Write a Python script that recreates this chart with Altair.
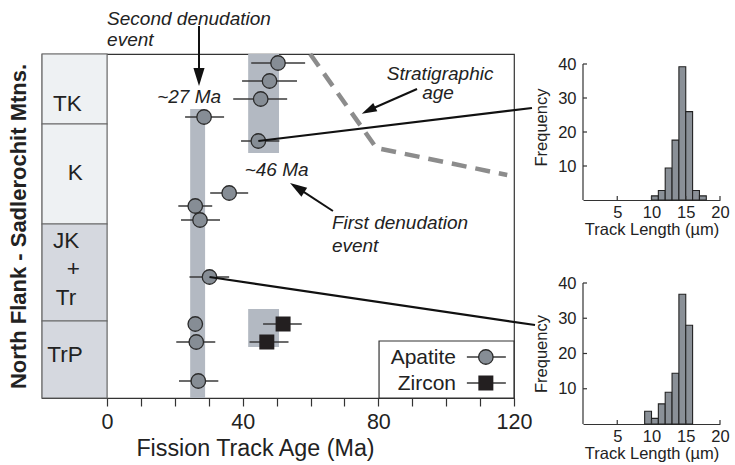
import altair as alt
import pandas as pd

FONT = "Liberation Sans"
INK = "#222222"

# ---------------- data ----------------
# Apatite fission-track ages (Ma), relative stratigraphic position (0 = top of section), error range
ap_age = [50.4, 47.9, 45.3, 28.6, 44.6, 36.0, 26.0, 27.4, 30.2, 26.0, 26.3, 26.9]
ap_pos = [9, 27, 45, 63, 87, 139, 152, 166, 223, 270, 288, 327]
ap_lo = [42.5, 39.8, 37.2, 23.0, 39.5, 30.4, 21.0, 21.8, 24.3, 26.0, 20.4, 21.2]
ap_hi = [58.4, 56.0, 53.1, 34.5, 50.8, 41.6, 31.0, 33.3, 36.0, 26.0, 31.9, 32.8]

# Zircon fission-track ages
zr_age = [51.9, 47.1]
zr_pos = [270, 288]
zr_lo = [46.0, 42.0]
zr_hi = [57.4, 53.5]

# Stratigraphic column
COL_LEFT = -19.2
unit_top = [0, 70, 170, 267]
unit_base = [70, 170, 267, 344]
unit_shade = ["#eef1f3", "#eef1f3", "#d5d8df", "#d5d8df"]
unit_label = ["TK", "K", "JK", "+", "Tr", "TrP"]
unit_label_x = [-11.7, -9.4, -12.1, -10.0, -12.1, -12.4]
unit_label_y = [49.5, 119, 187, 215, 244, 301]

# Denudation event bands (age range, stratigraphic range)
band_x1 = [24.5, 41.6, 41.6]
band_x2 = [28.9, 50.7, 50.7]
band_y1 = [55, 0, 255]
band_y2 = [344, 99, 293]

# Stratigraphic age curve
strat_age_x = [59.9, 79.4, 118.0]
strat_age_y = [0, 94, 121]

# Track length histograms (bin start, frequency)
hist1_len = [10, 11, 12, 13, 14, 15, 16, 17]
hist1_freq = [1.2, 2.8, 9.4, 17.6, 39.2, 26.0, 2.8, 1.2]
hist2_len = [9, 10, 11, 12, 13, 14, 15]
hist2_freq = [3.6, 1.6, 5.7, 9.0, 14.4, 36.8, 28.0]

# Annotations
left_text = ["Second denudation", "event", "First denudation", "event"]
left_text_x = [0.0, 0.0, 66.3, 66.3]
left_text_y = [-29, -8, 175, 197.5]
center_text = ["~27 Ma", "~46 Ma", "Stratigraphic", "age"]
center_text_x = [24.2, 50.0, 98.2, 97.6]
center_text_y = [49, 122, 26, 45]

arrow_x1 = [27.1, 66.6, 91.4]
arrow_y1 = [-28, 157, 35]
arrow_x2 = [27.1, 57.4, 78.3]
arrow_y2 = [17, 136.6, 54.5]
head_x = [27.1, 56.05, 77.1]
head_y = [23, 133.6, 56.4]
head_angle = [180, 303, 244]
head_size = [324, 289, 225]

conn_x1 = [44.6, 30.2]
conn_y1 = [87, 223]
conn_x2 = [125.3, 126.2]
conn_y2 = [54, 271]

legend_label = ["Apatite", "Zircon"]
legend_text_x = [102.9, 102.9]
legend_text_y = [310, 336]
legend_sym_x = [111.7, 111.7]
legend_sym_y = [303, 329]
legend_line_x1 = [106.1, 106.1]
legend_line_x2 = [117.6, 117.6]
legend_box = dict(x1=[80.2], x2=[120.0], y1=[287], y2=[344])

# ---------------- main panel ----------------
xs = alt.Scale(domain=[COL_LEFT, 120], nice=False, zero=False)
ys = alt.Scale(domain=[0, 344], reverse=True, nice=False, zero=False)
xaxis = alt.Axis(values=list(range(0, 121, 10)),
                 labelExpr="datum.value % 40 === 0 ? datum.label : ''",
                 title="Fission Track Age (Ma)", grid=False, tickSize=8, tickColor="#333",
                 tickWidth=1.2, domainColor="#333", domainWidth=1.2, labelFontSize=21.5,
                 labelFont=FONT, labelColor=INK, labelPadding=5, labelFlush=False,
                 labelOverlap=False, titleFont=FONT, titleFontSize=23.3,
                 titleFontWeight="normal", titleColor=INK, titlePadding=5,
                 titleX=213, titleAlign="center")
yaxis = alt.Axis(title="North Flank - Sadlerochit Mtns.", labels=False, ticks=False,
                 domain=False, grid=False, titleFont=FONT, titleFontSize=22,
                 titleFontWeight="bold", titleColor=INK, titlePadding=12)


def X(f):
    return alt.X(f"{f}:Q", scale=xs, axis=xaxis)


def Y(f):
    return alt.Y(f"{f}:Q", scale=ys, axis=yaxis)


units_df = pd.DataFrame({"x1": [COL_LEFT] * 4, "x2": [0] * 4, "top": unit_top,
                         "base": unit_base, "shade": unit_shade})
units = alt.Chart(units_df).mark_rect(stroke="#666", strokeWidth=1.2).encode(
    x=X("x1"), x2="x2:Q", y=Y("top"), y2="base:Q",
    fill=alt.Fill("shade:N", scale=None))

ulab_df = pd.DataFrame({"t": unit_label, "x": unit_label_x, "y": unit_label_y})
ulab = alt.Chart(ulab_df).mark_text(font=FONT, fontSize=22.5, color=INK, align="center",
                                    baseline="middle").encode(x=X("x"), y=Y("y"), text="t:N")

band_df = pd.DataFrame({"x1": band_x1, "x2": band_x2, "y1": band_y1, "y2": band_y2})
bands = alt.Chart(band_df).mark_rect(color="#b3b9c2", opacity=1).encode(
    x=X("x1"), x2="x2:Q", y=Y("y1"), y2="y2:Q")

sa_df = pd.DataFrame({"x": strat_age_x, "y": strat_age_y, "o": [0, 1, 2]})
strat_line = alt.Chart(sa_df).mark_line(color="#8c8c8c", strokeWidth=4.5,
                                        strokeDash=[15, 9]).encode(
    x=X("x"), y=Y("y"), order="o:Q")

ap_df = pd.DataFrame({"age": ap_age, "pos": ap_pos, "lo": ap_lo, "hi": ap_hi})
zr_df = pd.DataFrame({"age": zr_age, "pos": zr_pos, "lo": zr_lo, "hi": zr_hi})
err = pd.concat([ap_df, zr_df])
errbars = alt.Chart(err).mark_rule(color="#3a3a3a", strokeWidth=1.5).encode(
    x=X("lo"), x2="hi:Q", y=Y("pos"))

ap_pts = alt.Chart(ap_df).mark_circle(size=210, color="#868d95", stroke="#2b2b2b",
                                      strokeWidth=1.3, opacity=1).encode(x=X("age"), y=Y("pos"))
zr_pts = alt.Chart(zr_df).mark_square(size=225, color="#231f20", opacity=1).encode(
    x=X("age"), y=Y("pos"))

conn_df = pd.DataFrame({"x1": conn_x1, "y1": conn_y1, "x2": conn_x2, "y2": conn_y2})
conns = alt.Chart(conn_df).mark_rule(color="#111", strokeWidth=2.2).encode(
    x=X("x1"), y=Y("y1"), x2="x2:Q", y2="y2:Q")

arr_df = pd.DataFrame({"x1": arrow_x1, "y1": arrow_y1, "x2": arrow_x2, "y2": arrow_y2})
arrows = alt.Chart(arr_df).mark_rule(color="#111", strokeWidth=2).encode(
    x=X("x1"), y=Y("y1"), x2="x2:Q", y2="y2:Q")
head_df = pd.DataFrame({"x": head_x, "y": head_y, "a": head_angle, "s": head_size})
heads = alt.Chart(head_df).mark_point(shape="M0,-1L-0.62,1L0.62,1Z", filled=True,
                                      color="#111", opacity=1).encode(
    x=X("x"), y=Y("y"), angle=alt.Angle("a:Q", scale=None), size=alt.Size("s:Q", scale=None))

lt_df = pd.DataFrame({"t": left_text, "x": left_text_x, "y": left_text_y})
ltext = alt.Chart(lt_df).mark_text(font=FONT, fontSize=19, fontStyle="italic", color=INK,
                                   align="left", baseline="alphabetic").encode(
    x=X("x"), y=Y("y"), text="t:N")
ct_df = pd.DataFrame({"t": center_text, "x": center_text_x, "y": center_text_y})
ctext = alt.Chart(ct_df).mark_text(font=FONT, fontSize=19, fontStyle="italic", color=INK,
                                   align="center", baseline="alphabetic").encode(
    x=X("x"), y=Y("y"), text="t:N")

lbox = alt.Chart(pd.DataFrame(legend_box)).mark_rect(fill="white", stroke="#333",
                                                      strokeWidth=1.2).encode(
    x=X("x1"), x2="x2:Q", y=Y("y1"), y2="y2:Q")
leg_df = pd.DataFrame({"t": legend_label, "tx": legend_text_x, "ty": legend_text_y,
                       "sx": legend_sym_x, "sy": legend_sym_y,
                       "l1": legend_line_x1, "l2": legend_line_x2})
ltxt = alt.Chart(leg_df).mark_text(font=FONT, fontSize=21, color=INK, align="right",
                                   baseline="alphabetic").encode(x=X("tx"), y=Y("ty"), text="t:N")
lline = alt.Chart(leg_df).mark_rule(color="#3a3a3a", strokeWidth=1.5).encode(
    x=X("l1"), x2="l2:Q", y=Y("sy"))
lcirc = alt.Chart(leg_df.iloc[[0]]).mark_circle(size=210, color="#868d95", stroke="#2b2b2b",
                                                 strokeWidth=1.3, opacity=1).encode(
    x=X("sx"), y=Y("sy"))
lsq = alt.Chart(leg_df.iloc[[1]]).mark_square(size=225, color="#231f20", opacity=1).encode(
    x=X("sx"), y=Y("sy"))

main = alt.layer(units, ulab, bands, strat_line, errbars, ap_pts, zr_pts, conns, arrows, heads,
                 ltext, ctext, lbox, lline, lcirc, lsq, ltxt).properties(
    width=472, height=344, view=alt.ViewBackground(stroke="#333", strokeWidth=1.2))


# ---------------- histograms ----------------
def hist(lengths, freqs, h, ytop):
    df = pd.DataFrame({"lo": lengths, "hi": [v + 1 for v in lengths], "f": freqs,
                       "z": [0] * len(lengths)})
    hxs = alt.Scale(domain=[0, 20], nice=False, zero=False)
    hys = alt.Scale(domain=[0, ytop], nice=False, zero=True)
    hxa = alt.Axis(values=[5, 10, 15, 20], ticks=False, tickSize=0, grid=False,
                   domainColor="#333", domainWidth=1.2, labelFontSize=16.5, labelFont=FONT,
                   labelColor=INK, labelPadding=4, labelFlush=False, title="Track Length (µm)",
                   titleFont=FONT, titleFontSize=16.5, titleFontWeight="normal", titleColor=INK,
                   titlePadding=1)
    hya = alt.Axis(values=[10, 20, 30, 40], ticks=False, tickSize=0, domain=False, grid=False,
                   labelFontSize=16.5, labelFont=FONT, labelColor=INK, labelPadding=7,
                   labelFlush=False, title="Frequency", titleFont=FONT, titleFontSize=16.5,
                   titleFontWeight="normal", titleColor=INK, titlePadding=8)
    bars = alt.Chart(df).mark_rect(fill="#8a9097", stroke="#222", strokeWidth=1.1,
                                   opacity=1).encode(
        x=alt.X("lo:Q", scale=hxs, axis=hxa), x2="hi:Q",
        y=alt.Y("f:Q", scale=hys, axis=hya), y2="z:Q")
    xt = pd.DataFrame({"t": [5, 10, 15, 20], "z": [0] * 4})
    xticks = alt.Chart(xt).mark_rule(color="#333", strokeWidth=1.2).encode(
        x=alt.X("t:Q", scale=hxs, axis=hxa), y=alt.Y("z:Q", scale=hys, axis=hya),
        y2=alt.value(h - 4))
    yt = pd.DataFrame({"t": [10, 20, 30, 40], "z": [0] * 4})
    yticks = alt.Chart(yt).mark_rule(color="#333", strokeWidth=1.2).encode(
        x=alt.X("z:Q", scale=hxs, axis=hxa), x2=alt.value(4),
        y=alt.Y("t:Q", scale=hys, axis=hya))
    yd = pd.DataFrame({"z": [0], "a": [0], "b": [40]})
    ydom = alt.Chart(yd).mark_rule(color="#333", strokeWidth=1.2).encode(
        x=alt.X("z:Q", scale=hxs, axis=hxa), y=alt.Y("a:Q", scale=hys, axis=hya), y2="b:Q")
    return alt.layer(bars, xticks, yticks, ydom).properties(
        width=137, height=h, view=alt.ViewBackground(strokeOpacity=0))


h1 = hist(hist1_len, hist1_freq, 146, 40 * 146 / 136)
h2 = hist(hist2_len, hist2_freq, 141, 40)

right = alt.vconcat(h1, h2, spacing=83, bounds="flush")
chart = alt.hconcat(main, right, spacing=69, bounds="flush").properties(
    padding={"left": 6, "top": 9, "right": 4, "bottom": 4}, background="white"
).configure(font=FONT)

chart.save("out.html", embed_options={"renderer": "svg", "actions": False})
